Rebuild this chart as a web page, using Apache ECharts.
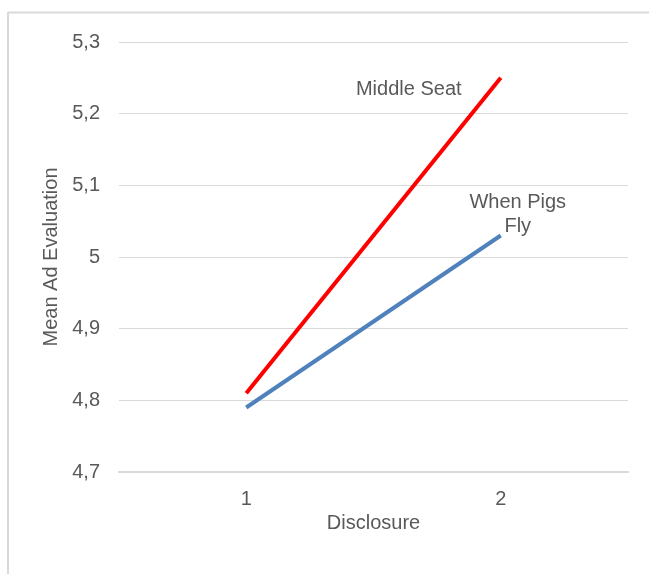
<!DOCTYPE html>
<html>
<head>
<meta charset="utf-8">
<script src="https://cdn.jsdelivr.net/npm/echarts@6/dist/echarts.min.js"></script>
<style>
html,body{margin:0;padding:0;background:#fff;}
#c{width:649px;height:574px;}
</style>
</head>
<body>
<div id="c"></div>
<script>
const categories = ['1', '2'];
const middleSeat = [4.81, 5.25];
const whenPigsFly = [4.79, 5.03];
const seriesNames = ['Middle Seat', 'When Pigs\nFly'];

const textColor = '#595959';
const font = 'Liberation Sans, Arial, sans-serif';

function withEndLabel(values, text, offset) {
  return values.map((v, i) => i === values.length - 1 ? {
    value: v,
    label: {
      show: true, position: 'inside', offset: offset, formatter: text,
      color: textColor, fontSize: 20, fontFamily: font, lineHeight: 24, align: 'center'
    }
  } : v);
}

const chart = echarts.init(document.getElementById('c'), null, {renderer: 'canvas'});
chart.setOption({
  backgroundColor: '#fff',
  animation: false,
  grid: {left: 119, right: 21, top: 42, bottom: 102, containLabel: false},
  graphic: [
    {type: 'line', shape: {x1: 8, y1: 12.5, x2: 649, y2: 12.5}, style: {stroke: '#d9d9d9', lineWidth: 2}},
    {type: 'line', shape: {x1: 8, y1: 12, x2: 8, y2: 574}, style: {stroke: '#d9d9d9', lineWidth: 2}}
  ],
  xAxis: {
    type: 'category', data: categories, boundaryGap: true,
    name: 'Disclosure', nameLocation: 'middle', nameGap: 39,
    nameTextStyle: {color: textColor, fontSize: 20, fontFamily: font},
    axisLine: {show: true, lineStyle: {color: '#d9d9d9', width: 2}},
    axisTick: {show: false},
    axisLabel: {color: textColor, fontSize: 20, fontFamily: font, margin: 17}
  },
  yAxis: {
    type: 'value', min: 4.7, max: 5.3, interval: 0.1,
    name: 'Mean Ad Evaluation', nameLocation: 'middle', nameGap: 58,
    nameTextStyle: {color: textColor, fontSize: 20, fontFamily: font},
    axisLine: {show: false}, axisTick: {show: false},
    splitLine: {lineStyle: {color: '#d9d9d9', width: 1}},
    axisLabel: {
      color: textColor, fontSize: 20, fontFamily: font, margin: 19,
      formatter: v => (Math.round(v * 10) / 10).toString().replace('.', ',')
    }
  },
  series: [
    {
      type: 'line', name: seriesNames[0], showSymbol: true, symbol: 'circle', symbolSize: 0,
      data: withEndLabel(middleSeat, seriesNames[0], [-92, 12]),
      lineStyle: {color: '#ff0000', width: 4}, itemStyle: {color: '#ff0000'}
    },
    {
      type: 'line', name: seriesNames[1], showSymbol: true, symbol: 'circle', symbolSize: 0,
      data: withEndLabel(whenPigsFly, seriesNames[1], [17, -21]),
      lineStyle: {color: '#4f81bd', width: 4}, itemStyle: {color: '#4f81bd'}
    }
  ]
});
</script>
</body>
</html>
